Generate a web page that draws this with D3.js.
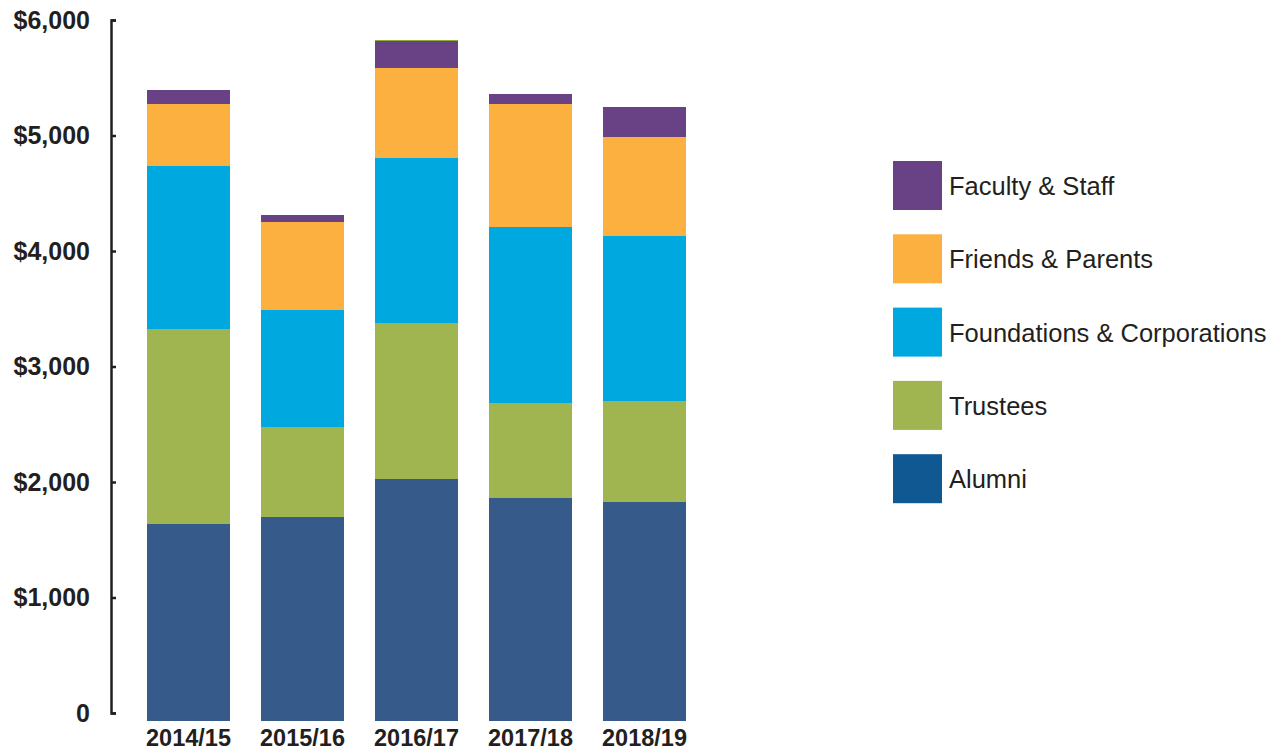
<!DOCTYPE html>
<html>
<head>
<meta charset="utf-8">
<script src="https://cdn.jsdelivr.net/npm/d3@7"></script>
<style>
  html, body { margin: 0; padding: 0; background: #fff; }
  svg { display: block; }
</style>
</head>
<body>
<svg id="chart" width="1279" height="750"></svg>
<script>
// ---- data ----
const years = ["2014/15", "2015/16", "2016/17", "2017/18", "2018/19"];
const alumni = [1636, 1697, 2026, 1861, 1827];
const trustees = [1689, 779, 1351, 823, 874];
const foundations = [1411, 1013, 1428, 1524, 1429];
const friends = [537, 762, 779, 1065, 857];
const faculty = [121, 61, 237, 86, 260];
const other = [0, 0, 8, 0, 0];
const yTicks = [0, 1000, 2000, 3000, 4000, 5000, 6000];
const seriesKeys = ["Alumni", "Trustees", "Foundations & Corporations", "Friends & Parents", "Faculty & Staff", "Other"];
const legendKeys = ["Faculty & Staff", "Friends & Parents", "Foundations & Corporations", "Trustees", "Alumni"];

const barColors = {
  "Alumni": "#365a89",
  "Trustees": "#a0b450",
  "Foundations & Corporations": "#00a8e0",
  "Friends & Parents": "#fbb040",
  "Faculty & Staff": "#684284",
  "Other": "#8db03c"
};
const legendColors = Object.assign({}, barColors, { "Alumni": "#0f5892" });

const rows = years.map((yr, i) => ({
  year: yr,
  "Alumni": alumni[i],
  "Trustees": trustees[i],
  "Foundations & Corporations": foundations[i],
  "Friends & Parents": friends[i],
  "Faculty & Staff": faculty[i],
  "Other": other[i]
}));

// ---- layout ----
const svg = d3.select("#chart");
const axisX = 111;
const baseOffset = 7.5;

const y = d3.scaleLinear().domain([0, 6000]).range([713, 20]);
const x = d3.scaleBand().domain(years).range([147, 686]).paddingInner(0.272).paddingOuter(0);

const stacked = d3.stack().keys(seriesKeys)(rows);

svg.append("g").selectAll("g")
  .data(stacked)
  .join("g")
  .attr("fill", d => barColors[d.key])
  .selectAll("rect")
  .data(d => d)
  .join("rect")
  .attr("x", d => x(d.data.year))
  .attr("width", x.bandwidth())
  .attr("y", d => y(d[1]))
  .attr("height", d => (d[0] === 0 ? y(0) + baseOffset : y(d[0])) - y(d[1]))
  .attr("shape-rendering", "crispEdges");

// y axis
const yAxis = d3.axisLeft(y)
  .tickValues(yTicks)
  .tickSizeInner(-5)
  .tickSizeOuter(-5)
  .tickPadding(21)
  .tickFormat(d => d === 0 ? "0" : "$" + d3.format(",")(d));

const gy = svg.append("g")
  .attr("transform", `translate(${axisX},0)`)
  .call(yAxis);
gy.select(".domain").attr("stroke", "#231f20").attr("stroke-width", 2.5);
gy.selectAll(".tick line").attr("stroke", "#231f20").attr("stroke-width", 2.5);
gy.selectAll(".tick text")
  .attr("fill", "#231f20")
  .style("font-family", "'Liberation Sans', Arial, sans-serif")
  .style("font-weight", "bold")
  .style("font-size", "25px");

// x labels
const xAxis = d3.axisBottom(x).tickSize(0).tickPadding(0);
const gx = svg.append("g")
  .attr("transform", "translate(0,729)")
  .call(xAxis);
gx.select(".domain").remove();
gx.selectAll(".tick text")
  .attr("fill", "#231f20")
  .attr("dy", "0.72em")
  .style("font-family", "'Liberation Sans', Arial, sans-serif")
  .style("font-weight", "bold")
  .style("font-size", "23.5px");

// legend
const legend = svg.append("g").attr("transform", "translate(893,161)");
const item = legend.selectAll("g")
  .data(legendKeys)
  .join("g")
  .attr("transform", (d, i) => `translate(0,${i * 73.3})`);
item.append("rect")
  .attr("width", 49)
  .attr("height", 49)
  .attr("fill", d => legendColors[d]);
item.append("text")
  .attr("x", 56)
  .attr("y", 34)
  .attr("fill", "#231f20")
  .style("font-family", "'Liberation Sans', Arial, sans-serif")
  .style("font-size", "25.5px")
  .text(d => d);
</script>
</body>
</html>
